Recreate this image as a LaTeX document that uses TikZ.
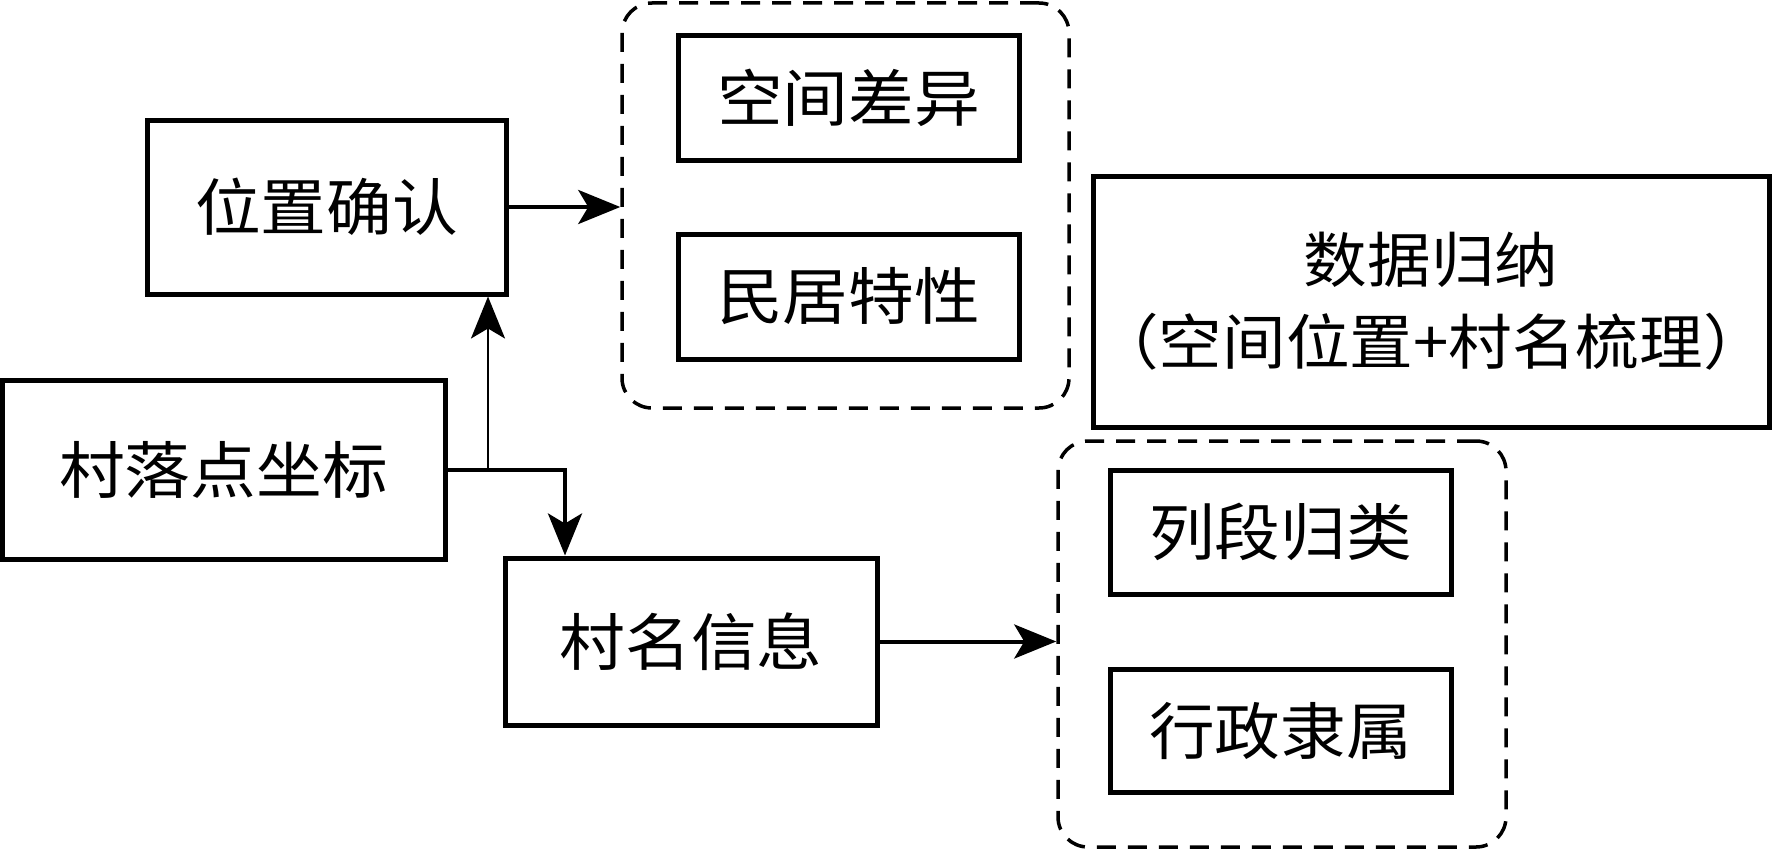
\documentclass[tikz,border=0pt]{standalone}
\usepackage{fontspec}
\newfontfamily\cjk[FakeStretch=1.06]{Noto Sans CJK SC}
\usetikzlibrary{arrows.meta}
\begin{document}
\begin{tikzpicture}[x=1pt,y=-1pt,
  box/.style={draw,line width=5pt,inner sep=0pt,font=\cjk\fontsize{62}{82}\selectfont,align=center},
  grp/.style={draw,dash pattern=on 19pt off 12pt,line width=3.5pt,rounded corners=30pt,inner sep=0pt},
  conn/.style={line width=4pt,-{Stealth[length=42pt,width=34pt,inset=10pt]}}]
\useasboundingbox (0,0) rectangle (1772,851);
\node[grp,minimum width=447pt,minimum height=405pt] (D1) at (845.5,205.5) {};
\node[grp,minimum width=448pt,minimum height=406pt] (D2) at (1282,644) {};
\node[box,minimum width=359pt,minimum height=174pt] (A) at (326.5,207) {位置确认};
\node[box,minimum width=443pt,minimum height=179pt] (B) at (223.5,469.5) {村落点坐标};
\node[box,minimum width=372pt,minimum height=167pt] (C) at (691,641.5) {村名信息};
\node[box,minimum width=341pt,minimum height=124pt] (E) at (848.5,98) {空间差异};
\node[box,minimum width=341pt,minimum height=125pt] (F) at (848.5,296.5) {民居特性};
\node[box,minimum width=676pt,minimum height=251pt,font=\cjk\fontsize{60}{82}\selectfont] (G) at (1431,301.5) {数据归纳\\（空间位置+村名梳理）};
\node[box,minimum width=341pt,minimum height=124pt] (H) at (1280.5,532) {列段归类};
\node[box,minimum width=341pt,minimum height=123pt] (I) at (1280.5,730.5) {行政隶属};
\coordinate (J) at (488,470);
\coordinate (K) at (565,470);
\draw[conn] (A.east) -- (A.east -| D1.west);
\draw[line width=4pt] (B.east |- J) -- (J);
\draw[conn,line width=2.5pt] (J) -- (J |- A.south);
\draw[conn] (J) -- (K) -- (K |- C.north);
\draw[conn] (C.east) -- (C.east -| D2.west);
\end{tikzpicture}
\end{document}
